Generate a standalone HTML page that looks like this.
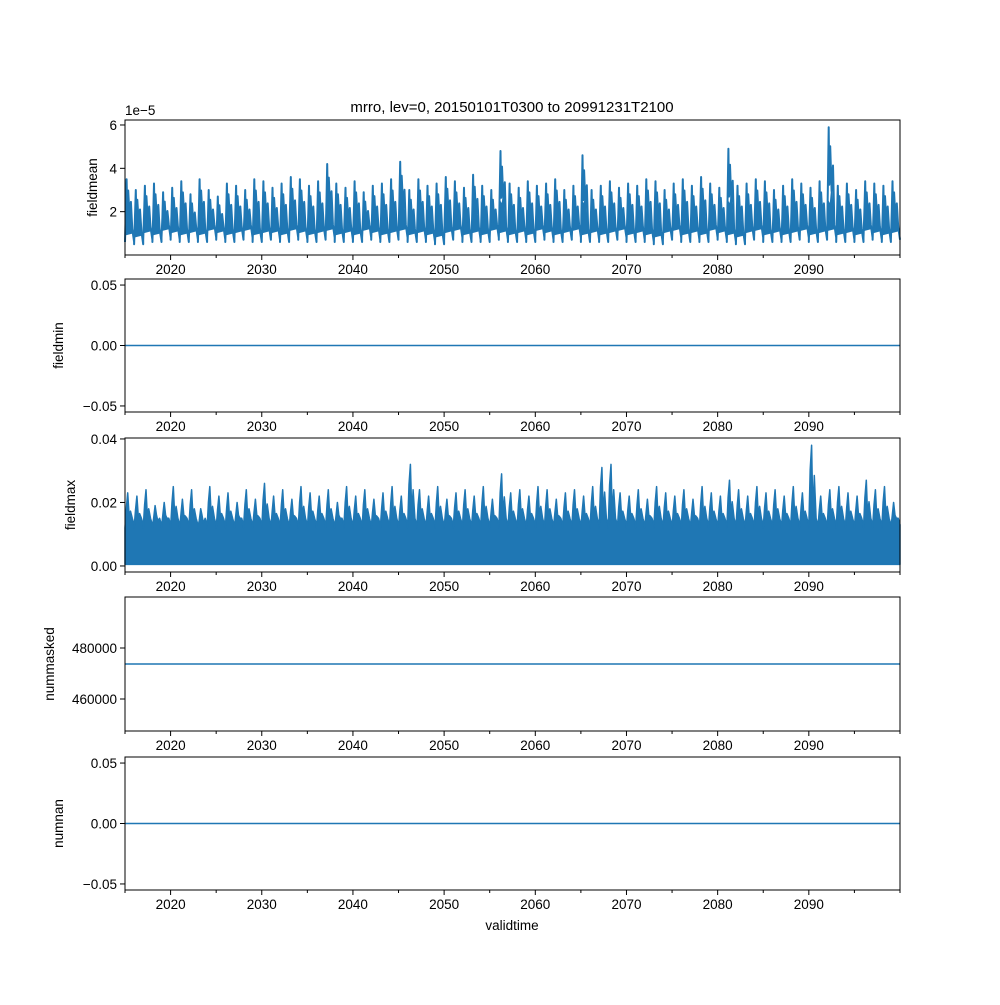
<!DOCTYPE html>
<html><head><meta charset="utf-8">
<style>
body{margin:0;background:#fff;}
svg text{font-family:"Liberation Sans","DejaVu Sans",sans-serif;fill:#000;}
</style></head>
<body>
<svg id="chart" width="1000" height="1000" xmlns="http://www.w3.org/2000/svg">
<rect width="1000" height="1000" fill="#fff"/>
</svg>
<script>
// ---- data ----
const years = [];
for (let y = 2015; y < 2100; y++) years.push(y);
const meanPeak = [3.5,3.0,3.2,3.3,2.9,3.1,3.4,2.8,3.5,3.0,2.7,3.3,3.2,3.0,3.5,3.4,3.1,3.3,3.6,3.5,3.2,3.4,4.2,3.3,3.1,3.4,2.9,3.2,3.3,3.5,4.3,3.0,3.5,3.2,3.3,3.6,3.4,3.1,3.7,3.2,3.0,4.8,3.3,3.1,3.4,3.2,3.3,3.5,3.0,3.2,4.6,3.0,3.2,3.4,3.1,3.3,3.2,3.5,3.4,3.0,3.3,3.5,3.2,3.6,3.3,3.1,4.9,3.2,3.3,3.5,3.4,3.0,3.2,3.5,3.3,3.1,3.4,5.9,3.2,3.3,3.0,3.4,3.3,3.2,3.4];
const meanTrough = [0.6,0.5,0.7,0.6,0.8,0.7,0.6,0.7,0.6,0.8,0.7,0.6,0.7,0.8,0.6,0.7,0.7,0.6,0.8,0.7,0.6,0.7,0.8,0.6,0.7,0.6,0.8,0.7,0.6,0.7,0.8,0.6,0.7,0.6,0.5,0.7,0.8,0.6,0.7,0.6,0.8,0.7,0.6,0.7,0.6,0.8,0.7,0.6,0.7,0.8,0.6,0.7,0.6,0.7,0.8,0.6,0.7,0.6,0.5,0.7,0.8,0.6,0.7,0.6,0.8,0.7,0.6,0.5,0.7,0.8,0.6,0.7,0.6,0.7,0.8,0.6,0.7,0.8,0.6,0.7,0.6,0.8,0.7,0.6,0.7];
const maxPeak = [0.023,0.022,0.024,0.019,0.020,0.025,0.021,0.024,0.018,0.025,0.022,0.023,0.020,0.024,0.021,0.026,0.022,0.024,0.021,0.025,0.023,0.022,0.024,0.020,0.025,0.022,0.024,0.021,0.023,0.025,0.022,0.032,0.024,0.022,0.025,0.021,0.023,0.024,0.022,0.025,0.021,0.029,0.023,0.024,0.022,0.025,0.024,0.021,0.023,0.024,0.022,0.025,0.031,0.032,0.023,0.022,0.024,0.021,0.025,0.023,0.022,0.024,0.021,0.025,0.023,0.022,0.027,0.024,0.022,0.025,0.023,0.024,0.022,0.025,0.023,0.038,0.022,0.024,0.025,0.023,0.022,0.027,0.024,0.025,0.020];
const minValue = 0.0;
const numMasked = 473725;
const numNan = 0.0;
const xTicks = [2020,2030,2040,2050,2060,2070,2080,2090];
const xMinor = [2015,2025,2035,2045,2055,2065,2075,2085,2095,2100];

// ---- layout ----
const svg = document.getElementById('chart');
const NS = 'http://www.w3.org/2000/svg';
const X0 = 125, X1 = 900, T0 = 2015, T1 = 2100;
const xs = t => X0 + (t - T0) / (T1 - T0) * (X1 - X0);
const C = '#1f77b4';
function el(tag, attrs, parent) {
  const e = document.createElementNS(NS, tag);
  for (const k in attrs) e.setAttribute(k, attrs[k]);
  (parent || svg).appendChild(e);
  return e;
}
function txt(s, x, y, anchor, size, parent, rot) {
  const t = el('text', {x: x, y: y, 'text-anchor': anchor, 'font-size': size}, parent);
  if (rot) t.setAttribute('transform', 'rotate(-90 ' + x + ' ' + y + ')');
  t.textContent = s;
  return t;
}
function panel(name, top, bot, vmin, vmax, yticks, ylabels, ylabel, labelX) {
  const g = el('g', {});
  
  
  const ys = v => bot - (v - vmin) / (vmax - vmin) * (bot - top);
  const plot = el('g', {}, g);
  
  
  const frame = () => {
    const r = el('rect', {x: X0, y: top, width: X1 - X0, height: bot - top, fill: 'none', stroke: '#000', 'stroke-width': 1}, g);
    
    
    xTicks.forEach(t => {
      el('line', {x1: xs(t), x2: xs(t), y1: bot, y2: bot + 5, stroke: '#000'}, g);
      txt(String(t), xs(t), bot + 19, 'middle', 13.5, g);
    });
    xMinor.forEach(t => el('line', {x1: xs(t), x2: xs(t), y1: bot, y2: bot + 3, stroke: '#000'}, g));
    yticks.forEach((v, i) => {
      el('line', {x1: X0 - 5, x2: X0, y1: ys(v), y2: ys(v), stroke: '#000'}, g);
      txt(ylabels[i], X0 - 8, ys(v) + 5, 'end', 13.5, g);
    });
    const yl = txt(ylabel, labelX, (top + bot) / 2, 'middle', 13.5, g, true);
    
    
  };
  return {g: g, plot: plot, ys: ys, frame: frame};
}

const title = txt('mrro, lev=0, 20150101T0300 to 20991231T2100', 512, 112, 'middle', 15);



// Panel 1 fieldmean
const p1 = panel('fieldmean', 120, 255, 0, 6.23, [2,4,6], ['2','4','6'], 'fieldmean', 97);
let d = '';
years.forEach((y, i) => {
  const tr = meanTrough[i], pk = meanPeak[i];
  const pts = [[y, tr], [y + 0.1, pk * 0.6], [y + 0.18, pk], [y + 0.25, pk * 0.55], [y + 0.35, pk * 0.85], [y + 0.5, pk * 0.5], [y + 0.65, pk * 0.7], [y + 0.8, tr + 0.6], [y + 1, tr]];
  pts.forEach((p, j) => { d += (i === 0 && j === 0 ? 'M' : 'L') + xs(p[0]).toFixed(1) + ',' + p1.ys(p[1]).toFixed(1); });
});
years.forEach((y, i) => {
  const pk = meanPeak[i], tr = meanTrough[i];
  const band = el('path', {d: 'M' + xs(y) + ',' + p1.ys(tr + 0.3) + 'L' + xs(y + 0.12) + ',' + p1.ys(Math.min(pk, 3.0) * 0.85) + 'L' + xs(y + 0.3) + ',' + p1.ys(Math.min(pk, 3.0) * 0.8) + 'L' + xs(y + 0.55) + ',' + p1.ys(pk * 0.6) + 'L' + xs(y + 0.75) + ',' + p1.ys(tr + 0.8) + 'L' + xs(y + 0.92) + ',' + p1.ys(tr + 0.4) + 'Z', fill: C}, p1.plot);
  
  
});
const path1 = el('path', {d: d, fill: 'none', stroke: C, 'stroke-width': 2, 'stroke-linejoin': 'round'}, p1.plot);


p1.frame();
const off = txt('1e\u22125', 125, 115, 'start', 13.5);



// Panel 2 fieldmin
const p2 = panel('fieldmin', 279, 412, -0.055, 0.055, [0.05, 0, -0.05], ['0.05', '0.00', '\u22120.05'], 'fieldmin', 63);
const l2 = el('line', {x1: X0, x2: X1, y1: p2.ys(minValue), y2: p2.ys(minValue), stroke: C, 'stroke-width': 1.6}, p2.plot);


p2.frame();

// Panel 3 fieldmax
const p3 = panel('fieldmax', 438, 572, -0.0019, 0.0403, [0, 0.02, 0.04], ['0.00', '0.02', '0.04'], 'fieldmax', 75);
let d3 = 'M' + xs(T0) + ',' + p3.ys(0.0005);
years.forEach((y, i) => {
  const pk = maxPeak[i];
  const pts = [[y, 0.012], [y + 0.15, pk * 0.8], [y + 0.3, pk], [y + 0.45, 0.016], [y + 0.6, pk * 0.75], [y + 0.8, 0.015], [y + 1, 0.013]];
  pts.forEach(p => { d3 += 'L' + xs(p[0]).toFixed(1) + ',' + p3.ys(p[1]).toFixed(1); });
});
d3 += 'L' + xs(T1) + ',' + p3.ys(0.0005) + 'Z';
const path3 = el('path', {d: d3, fill: C, stroke: C, 'stroke-width': 1.5, 'stroke-linejoin': 'round'}, p3.plot);


p3.frame();

// Panel 4 nummasked
const p4 = panel('nummasked', 597, 731, 447450, 500000, [460000, 480000], ['460000', '480000'], 'nummasked', 54);
const l4 = el('line', {x1: X0, x2: X1, y1: p4.ys(numMasked), y2: p4.ys(numMasked), stroke: C, 'stroke-width': 1.6}, p4.plot);


p4.frame();

// Panel 5 numnan
const p5 = panel('numnan', 757, 890, -0.055, 0.055, [0.05, 0, -0.05], ['0.05', '0.00', '\u22120.05'], 'numnan', 63);
const l5 = el('line', {x1: X0, x2: X1, y1: p5.ys(numNan), y2: p5.ys(numNan), stroke: C, 'stroke-width': 1.6}, p5.plot);


p5.frame();

const xl = txt('validtime', 512, 930, 'middle', 13.5);


</script>
</body></html>
